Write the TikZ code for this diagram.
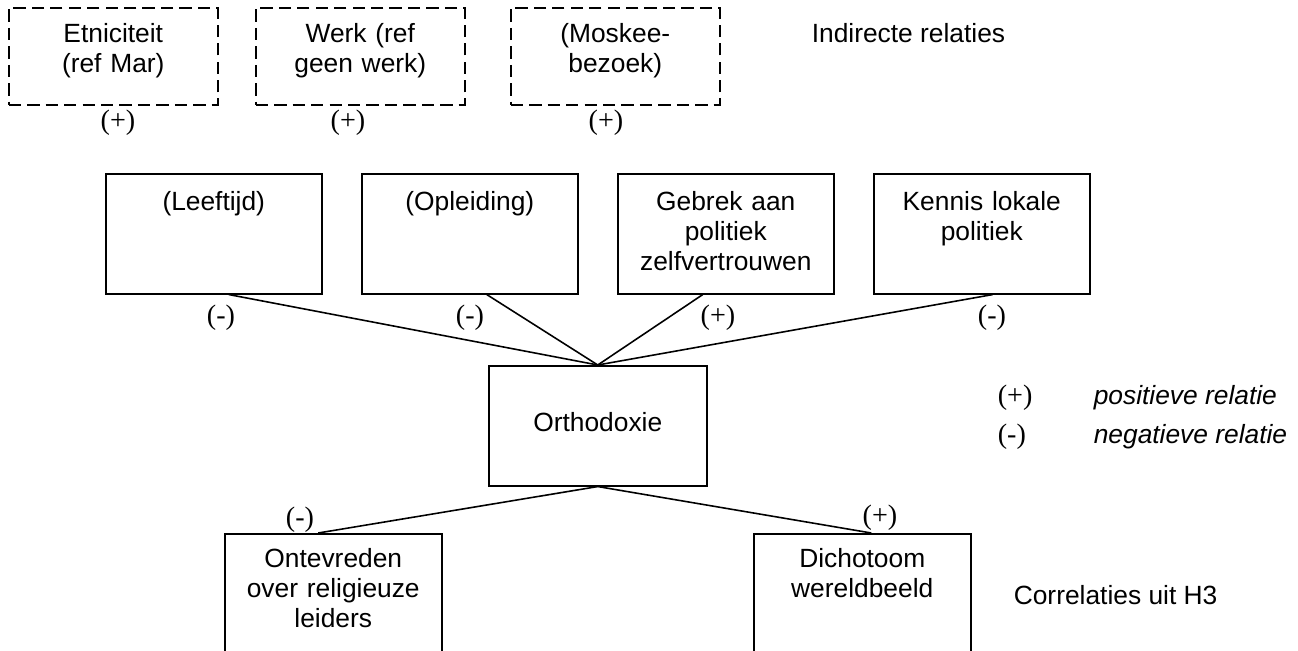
\documentclass[tikz,border=0pt]{standalone}
\usepackage{fontspec}
\setmainfont{Liberation Sans}
\newfontfamily\tnr{Liberation Serif}
\usetikzlibrary{calc}

\begin{document}
\begin{tikzpicture}[x=0.02cm,y=-0.02cm,line width=0.9pt,
	box/.style={draw,anchor=north west,inner sep=0pt,align=center,font=\fontsize{15}{17}\selectfont},
	indirect/.style={box,dash pattern=on 7pt off 3.5pt,text width=4.18cm,text height=0.7cm,text depth=1.24cm},
	direct/.style={box,text width=4.32cm,text height=0.74cm,text depth=1.66cm},
	centre/.style={box,text width=4.36cm,text height=1.32cm,text depth=1.08cm},
	outcome/.style={box,text width=4.34cm,text height=0.68cm,text depth=2cm},
	sign/.style={font=\tnr\fontsize{16}{18}\selectfont,inner sep=0pt},
	note/.style={anchor=west,inner sep=0pt,font=\fontsize{15}{17}\selectfont}]
	\clip (0,0) rectangle (1298,651);
	% indirecte relaties
	\node[indirect] (etniciteit) at (8,7) {Etniciteit\\(ref Mar)};
	\node[indirect] (werk) at (255,7) {Werk (ref\\geen werk)};
	\node[indirect] (moskee) at (510,7) {(Moskee-\\bezoek)};
	\node[sign] (s1) at (118,123) {(+)};
	\node[sign] (s2) at (348,123) {(+)};
	\node[sign] (s3) at (606,123) {(+)};
	\node[note] (indirecte) at (811,33) {Indirecte relaties};
	% directe relaties
	\node[direct] (leeftijd) at (105,173) {(Leeftijd)};
	\node[direct] (opleiding) at (361,173) {(Opleiding)};
	\node[direct] (gebrek) at (617,173) {Gebrek aan\\politiek\\zelfvertrouwen};
	\node[direct] (kennis) at (873,173) {Kennis lokale\\politiek};
	\node[sign] (s4) at (221,318) {(-)};
	\node[sign] (s5) at (470,318) {(-)};
	\node[sign] (s6) at (718,318) {(+)};
	\node[sign] (s7) at (992,318) {(-)};
	\node[centre] (orth) at (488,365) {Orthodoxie};
	\draw ($(leeftijd.south)+(15,0)$) -- (orth.north);
	\draw ($(opleiding.south)+(17,0)$) -- (orth.north);
	\draw ($(gebrek.south)+(-23,0)$) -- (orth.north);
	\draw ($(kennis.south)+(11,0)$) -- (orth.north);
	% legenda
	\node[sign,anchor=west] (plus) at (997,398) {(+)};
	\node[note,font=\fontsize{15}{17}\selectfont\itshape] (pos) at (1093,398) {positieve relatie};
	\node[sign,anchor=west] (min) at (997,437) {(-)};
	\node[note,font=\fontsize{15}{17}\selectfont\itshape] (neg) at (1093,437) {negatieve relatie};
	% correlaties H3
	\node[outcome] (ontevreden) at (224,533) {Ontevreden\\over religieuze\\leiders};
	\node[outcome] (dichotoom) at (753,533) {Dichotoom\\wereldbeeld};
	\node[sign] (s8) at (300,520) {(-)};
	\node[sign] (s9) at (880,518) {(+)};
	\draw (orth.south) -- ($(ontevreden.north)+(-15,0)$);
	\draw (orth.south) -- ($(dichotoom.north)+(9,0)$);
	\node[note] (correlaties) at (1013,595) {Correlaties uit H3};
\end{tikzpicture}
\end{document}
